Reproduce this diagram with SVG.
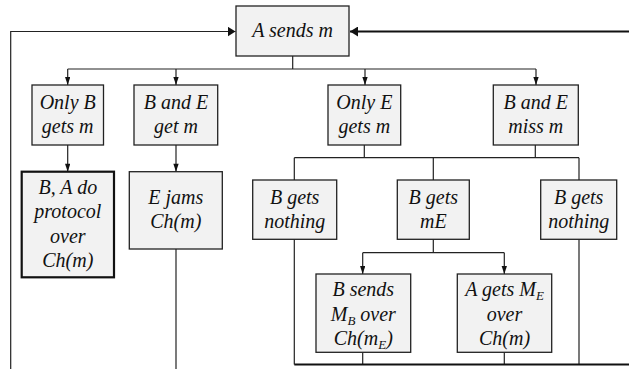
<svg xmlns="http://www.w3.org/2000/svg" width="629" height="369" viewBox="0 0 629 369">
  <style>
    .box { fill: #f2f2f2; stroke: #222; stroke-width: 1.3; }
    .box.bold { stroke: #111; stroke-width: 2.2; }
    .lbl { font-family: "Liberation Serif", "Times New Roman", serif; font-style: italic; font-size: 20px; fill: #111; text-anchor: middle; }
    .sub { font-size: 13px; }
    .wire { fill: none; stroke: #222; stroke-width: 1.2; }
    .wire.heavy { stroke-width: 2; stroke: #111; }
  </style>
  <defs>
    <marker id="arr" viewBox="0 0 8 10" refX="8" refY="5" markerWidth="8" markerHeight="10" markerUnits="userSpaceOnUse" orient="auto">
      <path d="M0,0 L8,5 L0,10 Z" fill="#111"/>
    </marker>
    <marker id="arrDown" viewBox="0 0 8 12" refX="12" refY="4" markerWidth="12" markerHeight="8" markerUnits="userSpaceOnUse" orient="auto">
      <path d="M0,0 L12,4 L0,8 Z" fill="#111"/>
    </marker>
  </defs>

  <g id="connectors">
    <!-- loop back into A sends m from the left -->
    <path class="wire" d="M10.7,369 V31.5 H235.5" marker-end="url(#arr)"/>
    <!-- return path entering from the right -->
    <path class="wire heavy" d="M629,31.5 H350" marker-end="url(#arr)"/>
    <!-- fan-out from A sends m -->
    <path class="wire" d="M292.7,56 V69 M67.7,69 H536"/>
    <path class="wire" d="M67.7,69 V85" marker-end="url(#arrDown)"/>
    <path class="wire" d="M176,69 V85" marker-end="url(#arrDown)"/>
    <path class="wire" d="M365,69 V85" marker-end="url(#arrDown)"/>
    <path class="wire" d="M536,69 V85" marker-end="url(#arrDown)"/>
    <!-- left branches -->
    <path class="wire" d="M67.7,145 V171.7" marker-end="url(#arrDown)"/>
    <path class="wire" d="M176,145 V171.7" marker-end="url(#arrDown)"/>
    <path class="wire" d="M176,249 V369"/>
    <!-- merge of Only E / miss branches -->
    <path class="wire" d="M364.3,145 V157.7 M535.3,145 V157.7 M294.3,157.7 H579"/>
    <path class="wire" d="M294.3,157.7 V180 M433.3,157.7 V180 M579,157.7 V180"/>
    <!-- B gets mE split -->
    <path class="wire" d="M433.3,239.3 V252.7 M362.7,252.7 H504.3"/>
    <path class="wire" d="M362.7,252.7 V274" marker-end="url(#arrDown)"/>
    <path class="wire" d="M504.3,252.7 V274" marker-end="url(#arrDown)"/>
    <!-- collection line at the bottom -->
    <path class="wire" d="M294.3,239.3 V364.5 M579,239.3 V364.5 M362.7,352.3 V364.5 M504.3,352.3 V364.5"/>
    <path class="wire heavy" d="M294.3,364.5 H629"/>
  </g>

  <g id="a-sends-m">
    <rect class="box" x="236" y="6" width="113" height="50"/>
    <text class="lbl" x="292.5" y="37">A sends m</text>
  </g>

  <g id="only-b-gets-m">
    <rect class="box" x="32" y="85" width="71.5" height="60"/>
    <text class="lbl" x="67.7" y="109">Only B</text>
    <text class="lbl" x="67.7" y="133">gets m</text>
  </g>

  <g id="b-and-e-get-m">
    <rect class="box" x="134" y="85" width="83.7" height="60"/>
    <text class="lbl" x="176" y="109">B and E</text>
    <text class="lbl" x="176" y="133">get m</text>
  </g>

  <g id="only-e-gets-m">
    <rect class="box" x="328" y="85" width="72.7" height="60"/>
    <text class="lbl" x="364.3" y="109">Only E</text>
    <text class="lbl" x="364.3" y="133">gets m</text>
  </g>

  <g id="b-and-e-miss-m">
    <rect class="box" x="493.3" y="85" width="85" height="60"/>
    <text class="lbl" x="535.8" y="109">B and E</text>
    <text class="lbl" x="535.8" y="133">miss m</text>
  </g>

  <g id="protocol">
    <rect class="box bold" x="21.7" y="171.7" width="92.3" height="105.6"/>
    <text class="lbl" x="67.8" y="193.5">B, A do</text>
    <text class="lbl" x="67.8" y="218">protocol</text>
    <text class="lbl" x="67.8" y="242.5">over</text>
    <text class="lbl" x="67.8" y="267">Ch(m)</text>
  </g>

  <g id="e-jams">
    <rect class="box" x="129.3" y="171.7" width="93" height="77.3"/>
    <text class="lbl" x="175.8" y="204">E jams</text>
    <text class="lbl" x="175.8" y="228">Ch(m)</text>
  </g>

  <g id="b-gets-nothing-left">
    <rect class="box" x="252.7" y="180" width="84" height="59.3"/>
    <text class="lbl" x="294.7" y="203.5">B gets</text>
    <text class="lbl" x="294.7" y="227.5">nothing</text>
  </g>

  <g id="b-gets-me">
    <rect class="box" x="397.3" y="180" width="72" height="59.3"/>
    <text class="lbl" x="433.3" y="203.5">B gets</text>
    <text class="lbl" x="433.3" y="227.5">mE</text>
  </g>

  <g id="b-gets-nothing-right">
    <rect class="box" x="540.7" y="180" width="76" height="59.3"/>
    <text class="lbl" x="578.7" y="203.5">B gets</text>
    <text class="lbl" x="578.7" y="227.5">nothing</text>
  </g>

  <g id="b-sends-mb">
    <rect class="box" x="316" y="274" width="94.7" height="78.3"/>
    <text class="lbl" x="363.3" y="296">B sends</text>
    <text class="lbl" x="363.3" y="320.5">M<tspan class="sub" dy="4">B</tspan><tspan dy="-4"> over</tspan></text>
    <text class="lbl" x="363.3" y="345">Ch(m<tspan class="sub" dy="4">E</tspan><tspan dy="-4">)</tspan></text>
  </g>

  <g id="a-gets-me">
    <rect class="box" x="457.3" y="274" width="94.4" height="78.3"/>
    <text class="lbl" x="504.5" y="296">A gets M<tspan class="sub" dy="4">E</tspan></text>
    <text class="lbl" x="504.5" y="320.5">over</text>
    <text class="lbl" x="504.5" y="345">Ch(m)</text>
  </g>
</svg>
